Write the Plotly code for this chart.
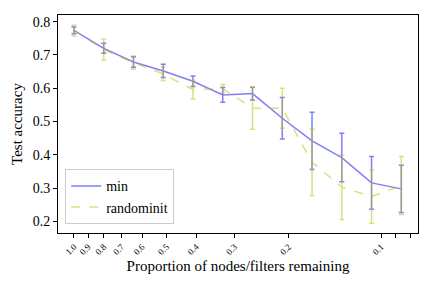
import plotly.graph_objects as go
import math

proportion = [1.0, 0.8, 0.64, 0.512, 0.4096, 0.32768, 0.262144, 0.2097152,
              0.16777216, 0.134217728, 0.1073741824, 0.08589934592]
min_mean = [0.774, 0.720, 0.679, 0.652, 0.621, 0.580, 0.584, 0.510, 0.442, 0.392, 0.316, 0.298]
min_std = [0.010, 0.015, 0.016, 0.020, 0.016, 0.022, 0.019, 0.062, 0.086, 0.073, 0.079, 0.071]
rand_mean = [0.773, 0.716, 0.677, 0.643, 0.596, 0.599, 0.540, 0.540, 0.378, 0.303, 0.275, 0.308]
rand_std = [0.016, 0.031, 0.020, 0.020, 0.028, 0.012, 0.063, 0.060, 0.100, 0.097, 0.080, 0.087]

tick_vals = [1.0, 0.9, 0.8, 0.7, 0.6, 0.5, 0.4, 0.3, 0.2, 0.1, 0.09, 0.08]
tick_text = ["1.0", "0.9", "0.8", "0.7", "0.6", "0.5", "0.4", "0.3", "0.2", "0.1", "", ""]

FONT = "Liberation Serif"

fig = go.Figure()
fig.add_trace(go.Scatter(
    x=proportion, y=min_mean, name="min", mode="lines",
    line=dict(color="rgb(0,0,255)", width=1.5),
    error_y=dict(type="data", array=min_std, visible=True,
                 color="rgb(0,0,255)", thickness=1.5, width=2.5),
    opacity=0.5,
))
fig.add_trace(go.Scatter(
    x=proportion, y=rand_mean, name="randominit", mode="lines",
    line=dict(color="rgb(191,191,0)", width=1.5, dash="dash"),
    error_y=dict(type="data", array=rand_std, visible=True,
                 color="rgb(191,191,0)", thickness=1.5, width=2.5),
    opacity=0.5,
))

fig.update_layout(
    width=432, height=288,
    margin=dict(l=58, r=14, t=15, b=55),
    paper_bgcolor="white", plot_bgcolor="white",
    font=dict(family=FONT, color="black", size=13),
    showlegend=True,
    legend=dict(x=0.02, y=0.04, xanchor="left", yanchor="bottom",
                bordercolor="rgb(204,204,204)", borderwidth=1,
                bgcolor="rgba(255,255,255,0.8)",
                font=dict(family=FONT, size=14),
                itemwidth=30, tracegroupgap=0),
    xaxis=dict(
        type="log", automargin=False,
        range=[math.log10(1.127), math.log10(0.0758)],
        tickmode="array", tickvals=tick_vals, ticktext=tick_text,
        tickangle=-45, tickfont=dict(family=FONT, size=9),
        ticks="outside", ticklen=4, tickwidth=1, tickcolor="black",
        showgrid=False, zeroline=False,
        showline=True, linecolor="black", linewidth=1, mirror=True,
        title=dict(text="Proportion of nodes/filters remaining",
                   font=dict(family=FONT, size=15), standoff=4),
    ),
    yaxis=dict(
        automargin=False,
        range=[0.1655, 0.82],
        tickmode="array", tickvals=[0.2, 0.3, 0.4, 0.5, 0.6, 0.7, 0.8],
        tickformat=".1f", tickfont=dict(family=FONT, size=14),
        ticks="outside", ticklen=4, tickwidth=1, tickcolor="black",
        showgrid=False, zeroline=False,
        showline=True, linecolor="black", linewidth=1, mirror=True,
        title=dict(text="Test accuracy", font=dict(family=FONT, size=15), standoff=6),
    ),
)

fig.write_html("out.html", config={"displayModeBar": False},
               post_script="document.body.style.margin='0px';")
